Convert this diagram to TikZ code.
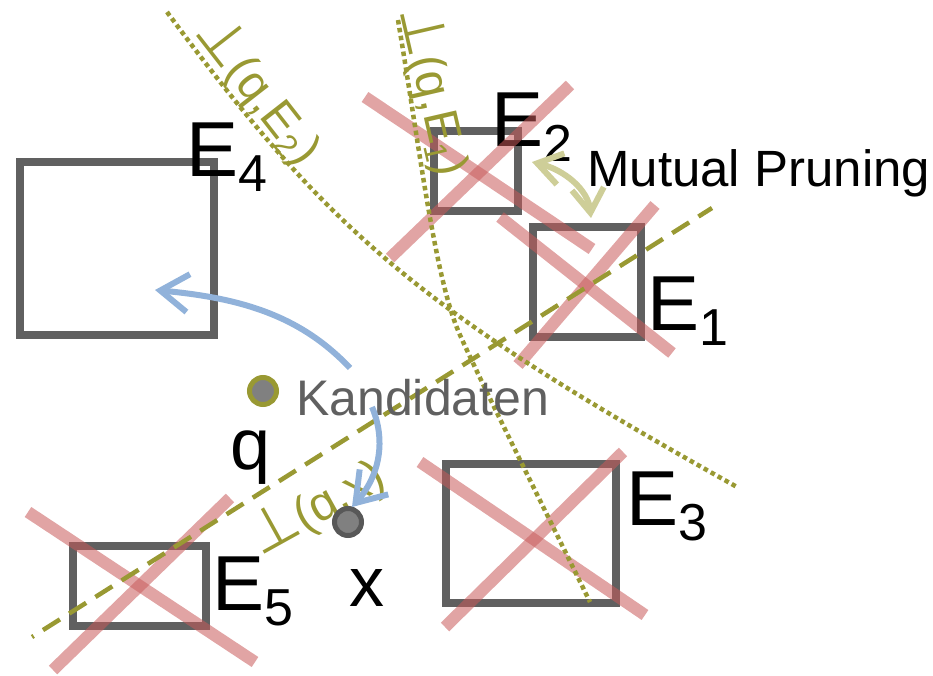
\documentclass[tikz,border=0pt]{standalone}
\usepackage{fontspec}
\setmainfont{Liberation Sans}
\newfontfamily\symfont{DejaVu Sans}
\usetikzlibrary{arrows.meta}

\definecolor{boxgray}{RGB}{96,96,96}
\definecolor{crossred}{RGB}{200,90,90}
\definecolor{olive}{RGB}{153,153,51}
\definecolor{paleolive}{RGB}{206,206,152}
\definecolor{hintblue}{RGB}{145,178,218}
\definecolor{ptfill}{RGB}{128,128,128}
\definecolor{ptring}{RGB}{88,88,88}
\definecolor{candgray}{RGB}{96,96,96}

% entry labels: E with a lowered index
\newcommand{\elabel}[1]{E\raisebox{-15pt}{\fontsize{52}{60}\selectfont #1}}
% perpendicular sign for the bisector labels
\newcommand{\perpsign}{{\symfont\fontsize{58}{60}\selectfont ⊥}}
% bisector labels
\newcommand{\bislabel}[1]{\perpsign(q,E\raisebox{-7pt}{\fontsize{32}{36}\selectfont #1})}

\tikzset{
  box/.style={draw=boxgray, line width=7.5pt, inner sep=0pt},
  strike/.style={crossred, opacity=0.55, line width=12pt},
  bisector/.style={olive, line width=4.5pt, dash pattern=on 4.5pt off 3.5pt},
  divider/.style={olive, line width=4.5pt, dash pattern=on 20pt off 11pt, dash phase=18pt},
  hint/.style={hintblue, line width=6pt, -{Straight Barb[length=28pt,width=38pt]}},
  prune/.style={paleolive, line width=6pt,
    {Straight Barb[length=24pt,width=32pt]}-{Straight Barb[length=24pt,width=32pt]}},
  elab/.style={anchor=base west, inner sep=0pt, font=\fontsize{78}{90}\selectfont},
  rotlab/.style={olive, anchor=base west, inner sep=0pt, font=\fontsize{48}{54}\selectfont},
  point/.style={circle, fill=ptfill, line width=5pt, minimum size=27pt, inner sep=0pt},
}

\begin{document}
\begin{tikzpicture}[x=1pt,y=-1pt]
\useasboundingbox (0,0) rectangle (933,676);

% MBR entries
\node[box, minimum width=194pt, minimum height=173pt] (E4) at (117,248.5) {};
\node[box, minimum width=84pt,  minimum height=80pt]  (E2) at (476,171) {};
\node[box, minimum width=108pt, minimum height=110pt] (E1) at (587,282) {};
\node[box, minimum width=170pt, minimum height=139pt] (E3) at (531,533.5) {};
\node[box, minimum width=133pt, minimum height=80pt]  (E5) at (139.5,586) {};

\node[elab] (lE4) at (186,177) {\elabel{4}};
\node[elab] (lE2) at (491,147) {\elabel{2}};
\node[elab] (lE1) at (647,330) {\elabel{1}};
\node[elab] (lE3) at (626,525) {\elabel{3}};
\node[elab] (lE5) at (212,610) {\elabel{5}};

% pruned entries
\draw[strike] (365,97) -- (592,249);
\draw[strike] (570,85) -- (390,258);
\draw[strike] (500,217) -- (672,353);
\draw[strike] (655,205) -- (518,365);
\draw[strike] (420,462) -- (645,615);
\draw[strike] (623,452) -- (445,627);
\draw[strike] (28,512) -- (255,662);
\draw[strike] (230,498) -- (53,670);

% bisectors
\draw[bisector] (167,12) .. controls (330,232) and (415,307) .. (737,487);
\draw[bisector] (398,20) .. controls (420,150) and (435,280) .. (460,335)
                         .. controls (480,380) and (540,500) .. (590,602);
\draw[divider] (32,637) -- (712,208);

\node[rotlab, rotate=-52] (bE2) at (193,32) {\bislabel{2}};
\node[rotlab, rotate=-77] (bE1) at (399,10) {\bislabel{1}};
\node[rotlab, rotate=29]  (bx)  at (260,557) {\perpsign(q,x)};

% query and candidate points
\node[point, draw=olive] (q) at (263,391) {};
\node[point, draw=ptring] (x) at (348,522) {};
\node[anchor=base west, inner sep=0pt, font=\fontsize{72}{80}\selectfont] (ql) at (230,469) {q};
\node[anchor=base west, inner sep=0pt, font=\fontsize{70}{80}\selectfont] (xl) at (349,606) {x};
\node[anchor=base west, inner sep=0pt, candgray, font=\fontsize{50}{56}\selectfont] (cand) at (296,415) {Kandidaten};
\node[anchor=base west, inner sep=0pt, font=\fontsize{51}{58}\selectfont] (mp) at (587,187) {Mutual Pruning};

% arrows
\coordinate (h1s) at (350,368);
\coordinate (h1e) at (155,290);
\coordinate (h2s) at (372,407);
\coordinate (h2e) at (352,507);
\coordinate (m1) at (532,162);
\coordinate (m2) at (591,218);
\draw[hint] (h1s) .. controls (300,315) and (240,298) .. (h1e);
\draw[hint] (h2s) .. controls (386,440) and (380,475) .. (h2e);
\draw[prune] (m1) .. controls (565,170) and (588,190) .. (m2);
\end{tikzpicture}
\end{document}
